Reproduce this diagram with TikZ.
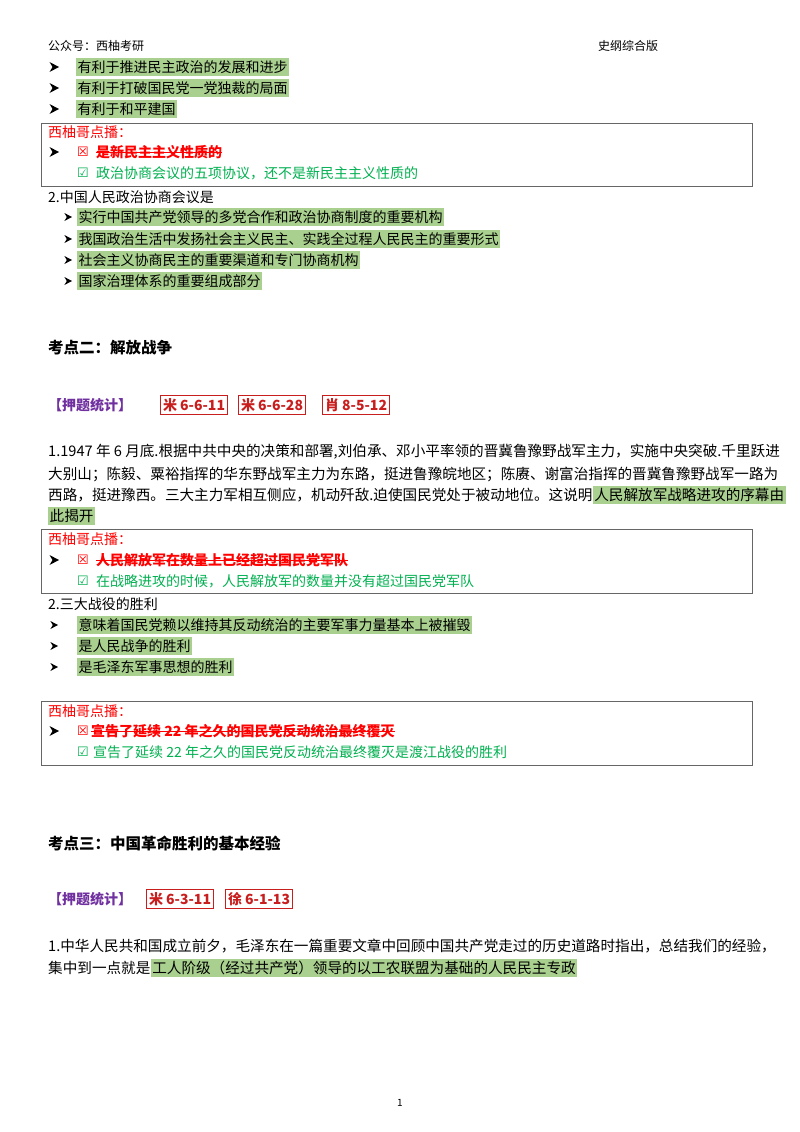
\documentclass[tikz,border=0pt]{standalone}
\usepackage{fontspec}
\setmainfont{Noto Sans CJK SC}
\newfontfamily\sym{DejaVu Sans}
\definecolor{hlg}{RGB}{169,208,142}
\definecolor{rd}{RGB}{255,0,0}
\definecolor{gn}{RGB}{0,176,80}
\definecolor{pp}{RGB}{112,48,160}
\definecolor{br}{RGB}{200,30,30}
\newcommand\pf{\fontsize{14.6}{16}\selectfont}
\begin{document}
\begin{tikzpicture}[x=1pt,y=-1pt,
  t/.style={anchor=west,inner sep=0pt,font=\fontsize{14}{16}\selectfont},
  hl/.style={t,fill=hlg,inner xsep=1.5pt,inner ysep=2.5pt},
  red/.style={t,text=rd},
  grn/.style={t,text=gn},
  head/.style={anchor=west,inner sep=0pt,font=\fontsize{15.5}{17}\bfseries\selectfont},
  box/.style={draw=black!60,line width=0.8pt},
  tag/.style={anchor=west,draw=br,line width=1pt,inner sep=2.5pt,text=br,font=\fontsize{14}{16}\bfseries\selectfont},
  bul/.pic={\fill (-4.5,-5) -- (5,0) -- (-4.5,5) -- (-1.5,0) -- cycle;},
  sy/.style={anchor=center,inner sep=0pt,font=\sym\fontsize{13}{15}\selectfont}]
\useasboundingbox (0,0) rectangle (800,1132);
\fill[white] (0,0) rectangle (800,1132);
% header
\node[t,font=\fontsize{12}{13}\selectfont] (h1) at (48,46) {公众号：西柚考研};
\node[t,font=\fontsize{12}{13}\selectfont] (h2) at (598,46) {史纲综合版};
% first bullets
\foreach \y/\s [count=\i] in {67/有利于推进民主政治的发展和进步,88/有利于打破国民党一党独裁的局面,109/有利于和平建国}{
  \pic at (54,\y) {bul};
  \node[hl] (a\i) at (76,\y) {\s};
}
% box 1
\draw[box] (41,123) rectangle (752,186);
\node[red] (b1) at (48,132) {西柚哥点播：};
\pic at (54,152) {bul};
\node[sy,text=rd] (b1x) at (83,152) {☒};
\node[red,font=\fontsize{14}{16}\bfseries\selectfont] (b1s) at (96,152) {是新民主主义性质的};
\draw[rd,line width=0.9pt] (b1s.west) -- (b1s.east);
\node[sy,text=gn] (b1c) at (83,173) {☑};
\node[grn] (b1g) at (96,173) {政治协商会议的五项协议，还不是新民主主义性质的};
% item 2
\node[t] (c0) at (48,197) {2.中国人民政治协商会议是};
\foreach \y/\s [count=\i] in {217/实行中国共产党领导的多党合作和政治协商制度的重要机构,239/我国政治生活中发扬社会主义民主、实践全过程人民民主的重要形式,260/社会主义协商民主的重要渠道和专门协商机构,281/国家治理体系的重要组成部分}{
  \pic[scale=0.8] at (68,\y) {bul};
  \node[hl] (c\i) at (77,\y) {\s};
}
% section 2
\node[head] (k2) at (48,348) {考点二：解放战争};
\node[t,text=pp,font=\fontsize{14}{16}\bfseries\selectfont] (y2) at (48,405) {【押题统计】};
\node[tag] (g1) at (160,405) {米 6-6-11};
\node[tag] (g2) at (238,405) {米 6-6-28};
\node[tag] (g3) at (322,405) {肖 8-5-12};
\node[t,font=\pf] (p1) at (48,452) {1.1947 年 6 月底.根据中共中央的决策和部署,刘伯承、邓小平率领的晋冀鲁豫野战军主力，实施中央突破.千里跃进};
\node[t,font=\pf] (p2) at (48,474) {大别山；陈毅、粟裕指挥的华东野战军主力为东路，挺进鲁豫皖地区；陈赓、谢富治指挥的晋冀鲁豫野战军一路为};
\node[t,font=\pf] (p3) at (48,495) {西路，挺进豫西。三大主力军相互侧应，机动歼敌.迫使国民党处于被动地位。这说明};
\node[hl,font=\pf] (p3h) at (p3.east) {人民解放军战略进攻的序幕由};
\node[hl,font=\pf] (p4) at (48,516) {此揭开};
% box 2
\draw[box] (41,529) rectangle (752,593);
\node[red] (d1) at (48,539) {西柚哥点播：};
\pic at (54,560) {bul};
\node[sy,text=rd] (d1x) at (83,560) {☒};
\node[red,font=\fontsize{14}{16}\bfseries\selectfont] (d1s) at (96,560) {人民解放军在数量上已经超过国民党军队};
\draw[rd,line width=0.9pt] (d1s.west) -- (d1s.east);
\node[sy,text=gn] (d1c) at (83,581) {☑};
\node[grn] (d1g) at (96,581) {在战略进攻的时候，人民解放军的数量并没有超过国民党军队};
\node[t] (e0) at (48,604) {2.三大战役的胜利};
\foreach \y/\s [count=\i] in {625/意味着国民党赖以维持其反动统治的主要军事力量基本上被摧毁,646/是人民战争的胜利,667/是毛泽东军事思想的胜利}{
  \pic[scale=0.8] at (54,\y) {bul};
  \node[hl] (e\i) at (77,\y) {\s};
}
% box 3
\draw[box] (41,701) rectangle (752,765);
\node[red] (f1) at (48,711) {西柚哥点播：};
\pic at (54,731) {bul};
\node[sy,text=rd] (f1x) at (83,731) {☒};
\node[red,font=\fontsize{14}{16}\bfseries\selectfont] (f1s) at (91,731) {宣告了延续 22 年之久的国民党反动统治最终覆灭};
\draw[rd,line width=0.9pt] (f1s.west) -- (f1s.east);
\node[sy,text=gn] (f1c) at (83,752) {☑};
\node[grn] (f1g) at (93,752) {宣告了延续 22 年之久的国民党反动统治最终覆灭是渡江战役的胜利};
% section 3
\node[head] (k3) at (48,843) {考点三：中国革命胜利的基本经验};
\node[t,text=pp,font=\fontsize{14}{16}\bfseries\selectfont] (y3) at (48,899) {【押题统计】};
\node[tag] (g4) at (146,899) {米 6-3-11};
\node[tag] (g5) at (225,899) {徐 6-1-13};
\node[t,font=\pf] (q1) at (48,946) {1.中华人民共和国成立前夕，毛泽东在一篇重要文章中回顾中国共产党走过的历史道路时指出，总结我们的经验，};
\node[t,font=\pf] (q2) at (48,968) {集中到一点就是};
\node[hl,font=\pf] (q2h) at (q2.east) {工人阶级（经过共产党）领导的以工农联盟为基础的人民民主专政};
\node[t,font=\fontsize{10}{12}\selectfont,anchor=center] (pg) at (400,1103) {1};
\end{tikzpicture}
\end{document}
